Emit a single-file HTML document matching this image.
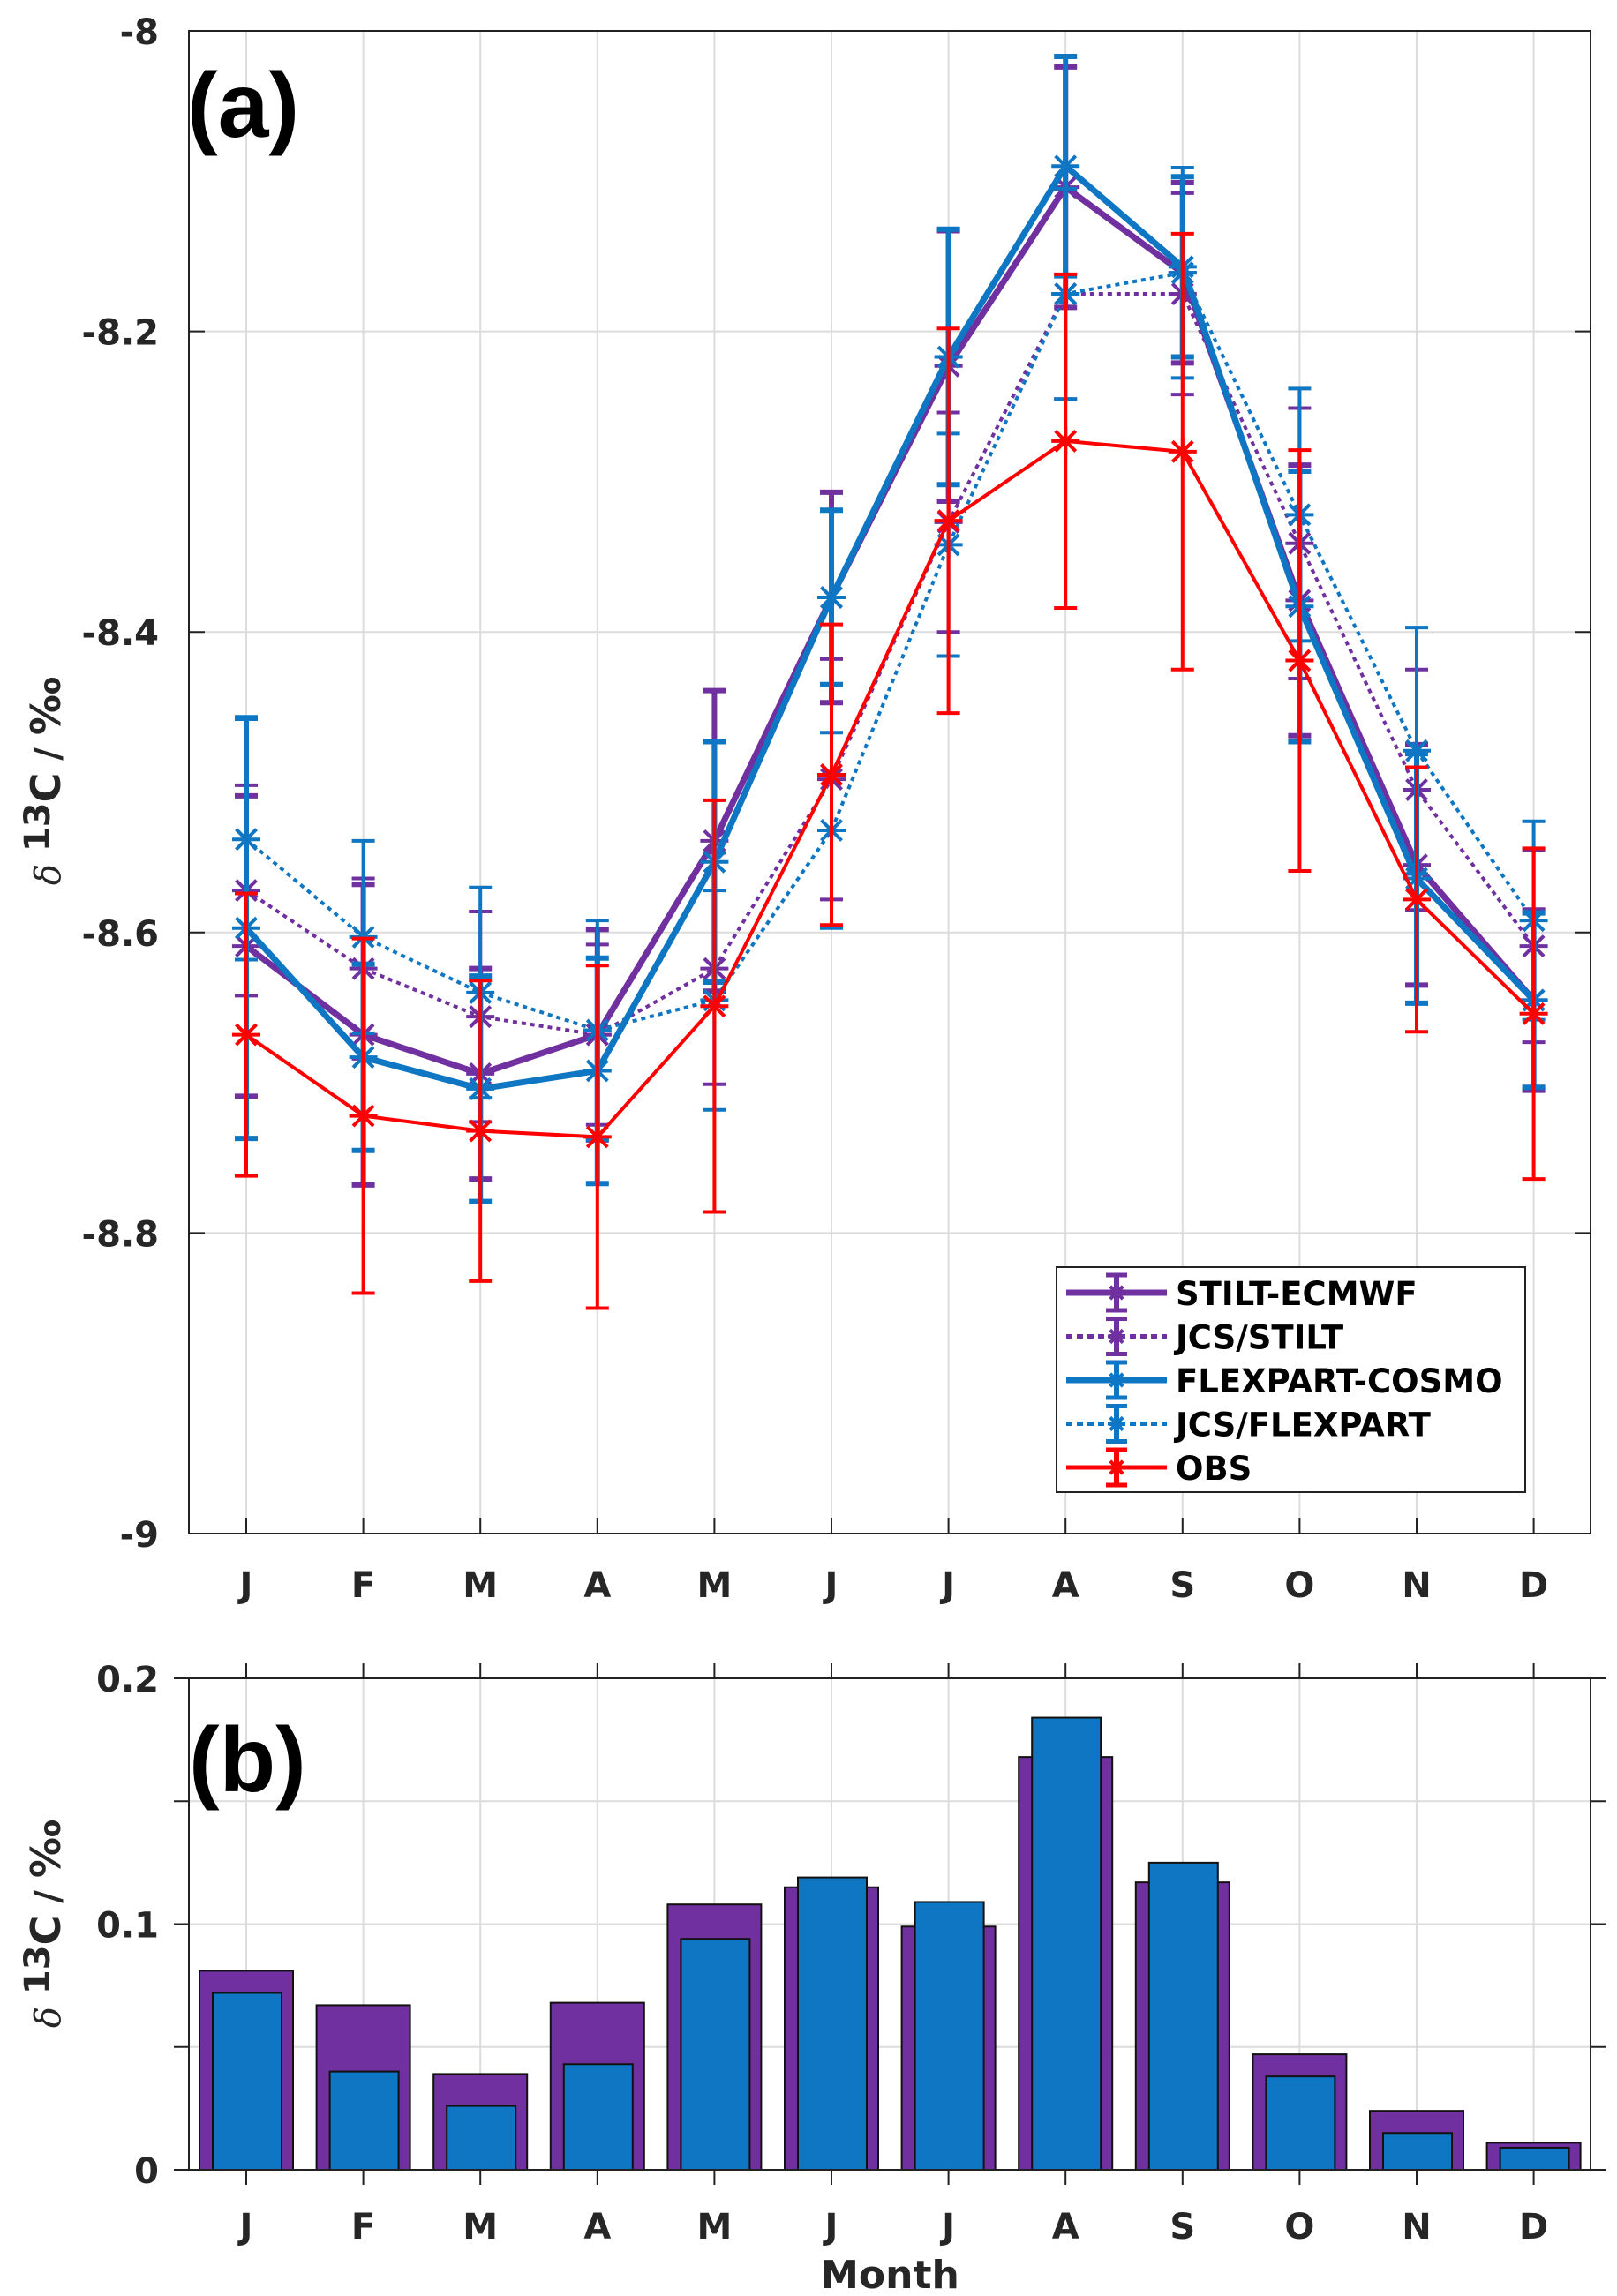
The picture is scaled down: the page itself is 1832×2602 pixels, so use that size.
<!DOCTYPE html>
<html><head><meta charset="utf-8"><style>
html,body{margin:0;padding:0;background:#fff}
svg{display:block;font-family:"DejaVu Sans",sans-serif;font-weight:bold}
</style></head><body>
<svg id="chart" width="1832" height="2602" viewBox="0 0 1832 2602" xmlns="http://www.w3.org/2000/svg"></svg>
<script>
const months = ["J","F","M","A","M","J","J","A","S","O","N","D"];
const yTicksA = [-8,-8.2,-8.4,-8.6,-8.8,-9];
const yTickLabelsA = ["-8","-8.2","-8.4","-8.6","-8.8","-9"];
const stiltEcmwf = [-8.609,-8.668,-8.694,-8.668,-8.539,-8.377,-8.223,-8.104,-8.161,-8.379,-8.555,-8.645];
const stiltEcmwfErr = [0.1,0.1,0.07,0.07,0.1,0.07,0.09,0.08,0.06,0.09,0.08,0.06];
const jcsStilt = [-8.572,-8.624,-8.656,-8.668,-8.624,-8.498,-8.327,-8.175,-8.175,-8.341,-8.505,-8.609];
const jcsStiltErr = [0.07,0.06,0.07,0.06,0.077,0.08,0.073,0.07,0.067,0.09,0.08,0.064];
const flexCosmo = [-8.597,-8.683,-8.704,-8.692,-8.553,-8.377,-8.217,-8.09,-8.157,-8.383,-8.564,-8.645];
const flexCosmoErr = [0.14,0.062,0.075,0.075,0.08,0.058,0.085,0.073,0.06,0.09,0.083,0.058];
const jcsFlex = [-8.538,-8.603,-8.64,-8.665,-8.645,-8.532,-8.342,-8.175,-8.161,-8.322,-8.479,-8.592];
const jcsFlexErr = [0.08,0.064,0.07,0.073,0.073,0.065,0.074,0.07,0.07,0.084,0.082,0.066];
const obs = [-8.668,-8.722,-8.732,-8.736,-8.649,-8.495,-8.326,-8.273,-8.28,-8.419,-8.578,-8.654];
const obsErr = [0.094,0.118,0.1,0.114,0.137,0.1,0.128,0.111,0.145,0.14,0.088,0.11];
const yTicksB = [0,0.1,0.2];
const yTickLabelsB = ["0","0.1","0.2"];
const yMinorB = [0.05,0.15];
const barsStilt = [0.081,0.067,0.039,0.068,0.108,0.115,0.099,0.168,0.117,0.047,0.024,0.011];
const barsFlex = [0.072,0.040,0.026,0.043,0.094,0.119,0.109,0.184,0.125,0.038,0.015,0.009];

const NS="http://www.w3.org/2000/svg";
const svg=document.getElementById('chart');
function mk(tag,attrs,parent){const e=document.createElementNS(NS,tag);for(const k in attrs)e.setAttribute(k,attrs[k]);(parent||svg).appendChild(e);return e;}

const L=214,R=1802;
const xM=i=>279+i*132.6;
const TITLE='<tspan font-style="italic" font-weight="normal" font-family="DejaVu Serif">δ</tspan> <tspan dy="-12">13</tspan><tspan dy="12" font-size="46">C</tspan> / <tspan font-size="46">‰</tspan>';
// Panel A
const aT=35,aB=1738;
const yA=v=>aT+(-8-v)/1*(aB-aT);
const gA=mk('g',{});
for(let i=0;i<12;i++){const l=mk('line',{x1:xM(i),x2:xM(i),y1:aT,y2:aB,stroke:'#dcdcdc','stroke-width':2},gA);}
yTicksA.forEach((v,i)=>{const l=mk('line',{x1:L,x2:R,y1:yA(v),y2:yA(v),stroke:'#dcdcdc','stroke-width':2},gA);
 mk('line',{x1:L,x2:L+18,y1:yA(v),y2:yA(v),stroke:'#222','stroke-width':2},gA);mk('line',{x1:R-18,x2:R,y1:yA(v),y2:yA(v),stroke:'#222','stroke-width':2},gA);
 const t=mk('text',{x:180,y:yA(v)+15,'text-anchor':'end','font-size':40,fill:'#262626'},gA);t.textContent=yTickLabelsA[i];});
for(let i=0;i<12;i++){mk('line',{x1:xM(i),x2:xM(i),y1:aB,y2:aB-18,stroke:'#222','stroke-width':2},gA);
 const t=mk('text',{x:xM(i),y:1810,'text-anchor':'middle','font-size':40,fill:'#262626'},gA);t.textContent=months[i];}
mk('rect',{x:L,y:aT,width:R-L,height:aB-aT,fill:'none',stroke:'#222','stroke-width':2},gA);
const yt=mk('text',{transform:'translate(68,885) rotate(-90)','text-anchor':'middle','font-size':40,fill:'#262626'},gA);

yt.innerHTML=TITLE;
const la=mk('text',{x:212,y:155,'font-size':104,'font-family':'Liberation Sans',fill:'#000'},gA);la.textContent='(a)';

function marker(g,x,y,c,s,w){mk('line',{x1:x-s,x2:x+s,y1:y,y2:y,stroke:c,'stroke-width':w},g);mk('line',{x1:x,x2:x,y1:y-s,y2:y+s,stroke:c,'stroke-width':w},g);
 const d=s*0.72;mk('line',{x1:x-d,x2:x+d,y1:y-d,y2:y+d,stroke:c,'stroke-width':w},g);mk('line',{x1:x-d,x2:x+d,y1:y+d,y2:y-d,stroke:c,'stroke-width':w},g);}
function series(name,vals,errs,color,w,ew,dash){
 const g=mk('g',{});
 vals.forEach((v,i)=>{const x=xM(i);mk('line',{x1:x,x2:x,y1:yA(v+errs[i]),y2:yA(v-errs[i]),stroke:color,'stroke-width':ew},g);
  [v+errs[i],v-errs[i]].forEach(e=>mk('line',{x1:x-13,x2:x+13,y1:yA(e),y2:yA(e),stroke:color,'stroke-width':ew},g));});
 const p=mk('polyline',{points:vals.map((v,i)=>xM(i)+','+yA(v)).join(' '),fill:'none',stroke:color,'stroke-width':w},g);
 if(dash)p.setAttribute('stroke-dasharray',dash);
 vals.forEach((v,i)=>marker(g,xM(i),yA(v),color,16,4));}
series('series-stilt-ecmwf',stiltEcmwf,stiltEcmwfErr,'#7030A0',7,6,null);
series('series-jcs-stilt',jcsStilt,jcsStiltErr,'#7030A0',4,4,'5 5');
series('series-flexpart-cosmo',flexCosmo,flexCosmoErr,'#0E76C2',7,6,null);
series('series-jcs-flexpart',jcsFlex,jcsFlexErr,'#0E76C2',4,4,'5 5');
series('series-obs',obs,obsErr,'#FF0000',4,4,null);

// legend
const lg=mk('g',{});
mk('rect',{x:1197,y:1436,width:531,height:255,fill:'#fff',stroke:'#222','stroke-width':2},lg);
const lnames=['STILT-ECMWF','JCS/STILT','FLEXPART-COSMO','JCS/FLEXPART','OBS'];
const lcol=['#7030A0','#7030A0','#0E76C2','#0E76C2','#FF0000'];
const lw=[7,5,7,5,5];const ld=[null,'7 5',null,'7 5',null];
lnames.forEach((n,i)=>{const y=1465+i*49.5;const e=mk('g',{},lg);
 const l=mk('line',{x1:1208,x2:1322,y1:y,y2:y,stroke:lcol[i],'stroke-width':lw[i]},e);if(ld[i])l.setAttribute('stroke-dasharray',ld[i]);
 mk('line',{x1:1265,x2:1265,y1:y-20,y2:y+20,stroke:lcol[i],'stroke-width':6},e);
 mk('line',{x1:1253,x2:1277,y1:y-20,y2:y-20,stroke:lcol[i],'stroke-width':5},e);mk('line',{x1:1253,x2:1277,y1:y+20,y2:y+20,stroke:lcol[i],'stroke-width':5},e);
 marker(e,1265,y,lcol[i],10,4);
 const t=mk('text',{x:1332,y:y+14,'font-size':37,fill:'#000'},e);t.textContent=n;});

// Panel B
const bT=1902,bB=2459;
const yB=v=>bB-v/0.2*(bB-bT);
const gB=mk('g',{});
for(let i=0;i<12;i++){mk('line',{x1:xM(i),x2:xM(i),y1:bT,y2:bB,stroke:'#dcdcdc','stroke-width':2},gB);
 mk('line',{x1:xM(i),x2:xM(i),y1:bB,y2:bB+17,stroke:'#222','stroke-width':2},gB);mk('line',{x1:xM(i),x2:xM(i),y1:bT,y2:bT-17,stroke:'#222','stroke-width':2},gB);
 const t=mk('text',{x:xM(i),y:2537,'text-anchor':'middle','font-size':40,fill:'#262626'},gB);t.textContent=months[i];}
yTicksB.concat(yMinorB).forEach(v=>{mk('line',{x1:L,x2:R,y1:yB(v),y2:yB(v),stroke:'#dcdcdc','stroke-width':2},gB);
 mk('line',{x1:L-17,x2:L,y1:yB(v),y2:yB(v),stroke:'#222','stroke-width':2},gB);mk('line',{x1:R,x2:R+17,y1:yB(v),y2:yB(v),stroke:'#222','stroke-width':2},gB);});
yTicksB.forEach((v,i)=>{const t=mk('text',{x:180,y:yB(v)+15,'text-anchor':'end','font-size':40,fill:'#262626'},gB);t.textContent=yTickLabelsB[i];});
barsStilt.forEach((v,i)=>{const r=mk('rect',{x:xM(i)-53,y:yB(v),width:106,height:bB-yB(v),fill:'#7030A0',stroke:'#111','stroke-width':2},gB);});
barsFlex.forEach((v,i)=>{const r=mk('rect',{x:xM(i)-38,y:yB(v),width:78,height:bB-yB(v),fill:'#0E76C2',stroke:'#111','stroke-width':2},gB);});
mk('rect',{x:L,y:bT,width:R-L,height:bB-bT,fill:'none',stroke:'#222','stroke-width':2},gB);
const yt2=mk('text',{transform:'translate(68,2180) rotate(-90)','text-anchor':'middle','font-size':40,fill:'#262626'},gB);

yt2.innerHTML=TITLE;
const lb=mk('text',{x:214,y:2030,'font-size':104,'font-family':'Liberation Sans',fill:'#000'},gB);lb.textContent='(b)';
const xt=mk('text',{x:1008,y:2593,'text-anchor':'middle','font-size':44,fill:'#262626'},gB);xt.textContent='Month';
</script>
</body></html>
